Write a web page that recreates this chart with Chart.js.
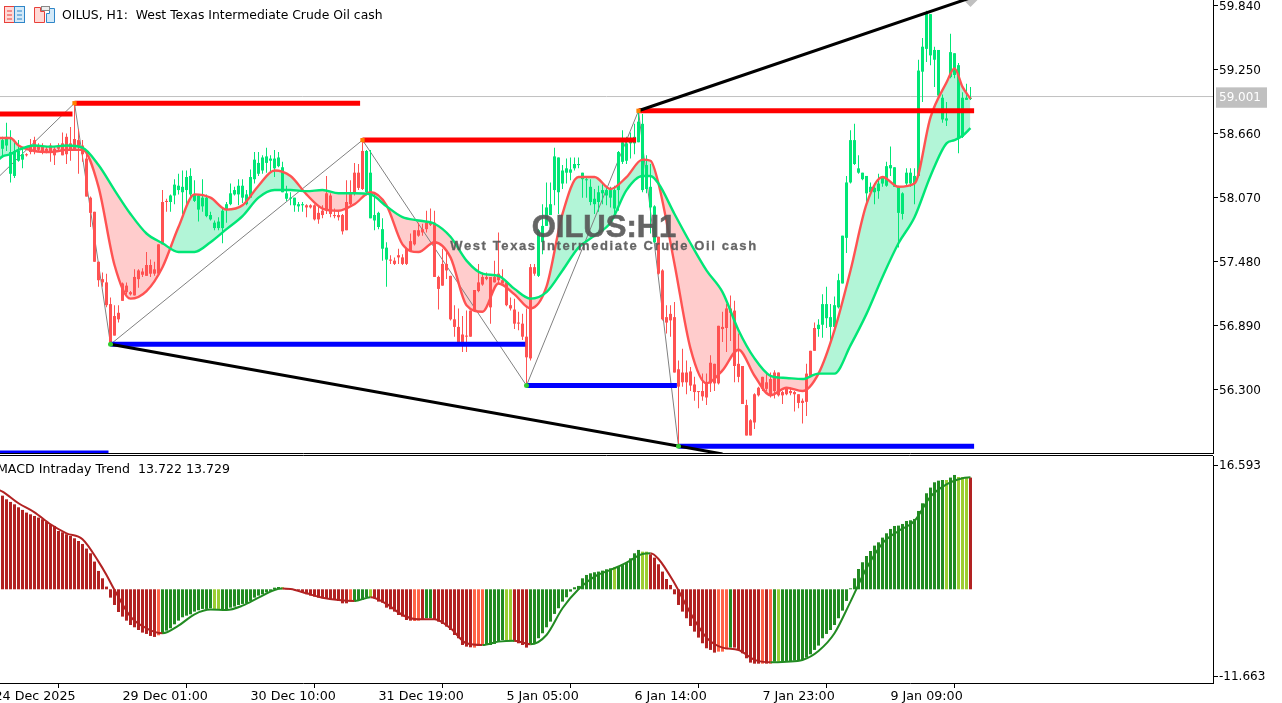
<!DOCTYPE html>
<html>
<head>
<meta charset="utf-8">
<title>OILUS H1</title>
<script src="https://cdn.jsdelivr.net/npm/chart.js@4"></script>
<style>
    html, body { margin: 0; padding: 0; background: #fff; overflow: hidden; }
    #page { position: relative; width: 1282px; height: 703px; overflow: hidden; }
    canvas { position: absolute; left: 0; }
    #priceChart { top: 0; }
    #macdChart { top: 455px; }
    .label { position: absolute; white-space: pre; font-family: "DejaVu Sans", sans-serif; color: #000; }
    #header { left: 62px; top: 7px; font-size: 12.4px; line-height: 15px; }
    #macdTitle { left: -3px; top: 461px; font-size: 12.6px; line-height: 15px; }
    #wmTitle { left: 404px; width: 400px; top: 210px; text-align: center; font: bold 31px/34px "Liberation Sans", sans-serif; color: #555; opacity: .9; -webkit-text-stroke: .6px #555; }
    #wmName { left: 404px; width: 400px; top: 238px; text-align: center; font: bold 13px/16px "Liberation Sans", sans-serif; letter-spacing: 1.6px; color: #555; opacity: .9; -webkit-text-stroke: .3px #555; }
    svg { position: absolute; top: 5px; }
</style>
</head>
<body>
<div id="page">
    <canvas id="priceChart" width="1282" height="455"></canvas>
    <canvas id="macdChart" width="1282" height="248"></canvas>
    <svg style="left:4px" width="21" height="19" viewBox="0 0 21 19">
        <rect x="0.5" y="1.5" width="10" height="16" fill="#ffd9d6" stroke="#e8403a"/>
        <rect x="10.5" y="1.5" width="10" height="16" fill="#d3e9f8" stroke="#2f86c8"/>
        <path d="M3 6h5M3 10h5M3 14h5" stroke="#e8403a"/>
        <path d="M13 6h5M13 10h5M13 14h5" stroke="#2f86c8"/>
    </svg>
    <svg style="left:33px" width="24" height="19" viewBox="0 0 24 19">
        <path d="M1.5 2.5h6v4h4v11h-10z" fill="#ffd9d6" stroke="#e8403a"/>
        <path d="M13.5 17.5v-9h3v-5h5v14z" fill="#d3e9f8" stroke="#2f86c8"/>
        <rect x="8.5" y="1.5" width="8" height="4" fill="#eee" stroke="#888"/>
    </svg>
    <div class="label" id="header">OILUS, H1:  West Texas Intermediate Crude Oil cash</div>
    <div class="label" id="macdTitle">MACD Intraday Trend  13.722 13.729</div>
    <div class="label" id="wmTitle">OILUS:H1</div>
    <div class="label" id="wmName">West Texas Intermediate Crude Oil cash</div>
</div>
<script>
// Candles, one entry per H1 bar
const highs = [
    58.63,58.76,58.69,58.60,58.60,58.52,58.48,58.61,58.63,58.57,
    58.57,58.54,58.57,58.54,58.57,58.67,58.66,58.72,58.92,58.70,
    58.60,58.47,58.08,57.94,57.48,57.38,57.37,57.15,57.08,57.08,
    57.29,57.29,57.21,57.41,57.41,57.42,57.57,57.50,57.48,57.64,
    58.14,58.06,58.10,58.24,58.29,58.32,58.32,58.34,58.23,58.10,
    58.24,58.10,57.94,57.86,57.89,57.97,58.03,58.20,58.17,58.24,
    58.24,58.14,58.33,58.49,58.49,58.46,58.53,58.46,58.51,58.49,
    58.40,58.18,58.12,58.07,58.03,58.03,58.01,58.01,58.01,58.00,
    58.00,58.27,58.11,57.97,57.95,57.92,58.23,58.23,58.39,58.38,
    58.58,58.51,58.51,58.11,57.94,57.88,57.66,57.54,57.52,57.60,
    57.55,57.61,57.74,57.77,57.84,57.83,57.95,57.97,57.95,57.35,
    57.60,57.58,57.35,57.08,57.05,56.98,57.03,57.03,57.22,57.46,
    57.38,57.38,57.34,57.49,57.75,57.41,57.29,57.15,57.14,57.02,
    57.00,57.05,57.46,57.46,57.78,58.01,58.21,58.21,58.53,58.44,
    58.37,58.43,58.44,58.44,58.44,58.30,58.27,58.24,58.15,58.18,
    58.20,58.18,58.17,58.18,58.50,58.69,58.63,58.67,58.75,58.87,
    58.84,58.46,58.38,58.00,57.71,57.41,57.08,57.08,57.11,56.57,
    56.68,56.57,56.51,56.42,56.29,56.45,56.45,56.62,56.54,56.89,
    57.02,57.09,57.17,57.12,56.82,56.52,56.21,56.03,56.27,56.33,
    56.42,56.45,56.46,56.48,56.46,56.29,56.31,56.32,56.29,56.26,
    56.22,56.54,56.66,56.92,56.95,57.18,57.25,57.09,57.16,57.37,
    57.72,58.27,58.69,58.75,58.46,58.30,58.27,58.21,58.20,58.29,
    58.27,58.40,58.54,58.35,58.18,58.12,58.34,58.34,58.34,59.34,
    59.54,59.79,59.76,59.46,59.43,59.02,58.95,59.58,59.40,59.31,
    59.04,59.12,59.09
];
const bodyTops = [
    58.60,58.63,58.49,58.50,58.50,58.47,58.47,58.55,58.60,58.54,
    58.54,58.52,58.55,58.52,58.55,58.57,58.63,58.57,58.61,58.60,
    58.55,58.43,58.07,57.94,57.48,57.32,57.29,57.09,56.98,57.01,
    57.28,57.26,57.20,57.34,57.40,57.39,57.45,57.45,57.41,57.64,
    58.03,58.04,58.09,58.19,58.18,58.17,58.26,58.27,58.10,58.09,
    58.07,58.07,57.91,57.84,57.85,57.95,58.01,58.11,58.14,58.18,
    58.18,58.10,58.26,58.42,58.39,58.44,58.45,58.43,58.43,58.44,
    58.35,58.11,58.07,58.07,58.01,58.01,58.00,58.00,58.00,57.93,
    57.95,58.11,58.09,57.91,57.91,57.91,58.03,58.11,58.30,58.30,
    58.50,58.50,58.30,57.91,57.93,57.78,57.61,57.50,57.49,57.54,
    57.52,57.60,57.67,57.77,57.77,57.78,57.84,57.84,57.84,57.34,
    57.46,57.46,57.35,56.95,56.88,56.81,56.80,57.03,57.22,57.29,
    57.34,57.34,57.34,57.34,57.37,57.31,57.29,57.08,57.04,56.92,
    56.91,56.79,57.43,57.43,57.77,57.81,57.98,58.01,58.45,58.44,
    58.32,58.34,58.33,58.38,58.38,58.30,58.24,58.17,58.06,58.12,
    58.14,58.14,58.14,58.14,58.49,58.58,58.57,58.61,58.63,58.77,
    58.75,58.37,58.17,57.99,57.71,57.40,56.97,57.00,56.97,56.49,
    56.46,56.46,56.47,56.35,56.28,56.29,56.36,56.55,56.54,56.89,
    56.88,57.05,57.05,57.03,56.54,56.52,56.16,56.02,56.26,56.32,
    56.42,56.37,56.40,56.46,56.46,56.28,56.31,56.29,56.28,56.26,
    56.20,56.45,56.66,56.87,56.90,57.09,57.09,56.97,57.08,57.31,
    57.72,58.21,58.60,58.60,58.34,58.30,58.27,58.17,58.16,58.20,
    58.26,58.36,58.37,58.35,58.17,58.11,58.30,58.30,58.27,59.24,
    59.46,59.77,59.76,59.43,59.43,58.99,58.80,59.41,59.40,59.29,
    58.99,58.99,58.99
];
const bodyBottoms = [
    58.52,58.55,58.29,58.27,58.41,58.42,58.46,58.49,58.50,58.51,
    58.49,58.50,58.49,58.46,58.52,58.46,58.47,58.50,58.51,58.54,
    58.47,58.08,57.93,57.48,57.31,57.29,57.08,56.72,56.80,56.95,
    57.12,57.20,57.18,57.17,57.32,57.36,57.35,57.37,57.37,57.37,
    57.64,58.03,58.03,58.09,58.14,58.12,58.14,58.10,58.04,57.96,
    57.99,57.90,57.87,57.79,57.79,57.79,57.96,58.01,58.10,58.10,
    58.07,58.01,58.07,58.24,58.29,58.32,58.39,58.41,58.34,58.36,
    58.12,58.06,58.06,58.00,57.99,58.00,57.98,57.98,57.87,57.87,
    57.91,57.95,57.92,57.90,57.89,57.76,57.77,58.01,58.11,58.16,
    58.15,58.12,57.88,57.86,57.80,57.60,57.50,57.49,57.46,57.52,
    57.46,57.46,57.58,57.64,57.72,57.75,57.78,57.82,57.34,57.23,
    57.26,57.40,56.95,56.88,56.72,56.74,56.79,56.79,57.03,57.21,
    57.27,57.32,57.06,57.29,57.31,57.28,57.08,57.05,56.91,56.91,
    56.79,56.60,56.59,57.37,57.35,57.66,57.81,57.91,58.14,58.12,
    58.20,58.30,58.30,58.34,58.37,58.24,58.23,58.03,58.01,58.03,
    58.11,58.09,58.07,57.97,58.14,58.40,58.41,58.57,58.57,58.58,
    58.14,58.15,57.98,57.66,57.37,56.95,56.92,56.94,56.46,56.33,
    56.37,56.37,56.34,56.28,56.28,56.24,56.23,56.36,56.36,56.36,
    56.86,56.87,57.01,56.52,56.42,56.17,55.88,55.88,56.00,56.25,
    56.31,56.31,56.25,56.29,56.25,56.25,56.26,56.27,56.26,56.18,
    56.18,56.19,56.42,56.66,56.86,56.90,56.96,56.88,56.88,57.06,
    57.28,57.70,58.21,58.38,58.30,58.24,58.11,58.12,58.12,58.13,
    58.20,58.18,58.34,58.17,57.93,57.92,58.20,58.20,58.20,58.27,
    59.23,59.44,59.38,59.34,59.01,58.79,58.78,59.18,59.20,58.62,
    58.63,58.97,58.98
];
const lows = [
    58.44,58.50,58.21,58.25,58.40,58.34,58.45,58.47,58.47,58.49,
    58.47,58.48,58.40,58.37,58.49,58.46,58.38,58.41,58.50,58.29,
    58.40,58.08,57.80,57.48,57.25,57.25,57.06,56.71,56.80,56.92,
    57.12,57.18,57.17,57.17,57.24,57.34,57.35,57.34,57.35,57.37,
    57.64,57.94,57.94,58.01,58.10,57.92,57.98,58.07,58.03,57.85,
    57.94,57.89,57.86,57.77,57.77,57.65,57.84,58.00,58.09,58.00,
    58.02,58.00,58.07,58.20,58.27,58.29,58.30,58.30,58.26,58.35,
    58.12,58.04,58.00,57.94,57.94,57.94,57.89,57.97,57.86,57.83,
    57.88,57.92,57.89,57.88,57.86,57.73,57.77,58.00,58.09,58.14,
    58.14,58.09,57.88,57.77,57.78,57.49,57.25,57.46,57.45,57.46,
    57.45,57.45,57.57,57.63,57.71,57.72,57.75,57.81,57.34,57.04,
    57.26,57.32,56.94,56.79,56.71,56.65,56.65,56.79,57.02,57.20,
    57.26,57.31,56.91,57.29,57.28,57.28,57.07,57.03,56.86,56.85,
    56.76,56.36,56.57,57.35,57.34,57.55,57.81,57.91,58.00,57.92,
    58.15,58.20,58.23,58.32,58.34,58.07,58.07,58.00,57.92,57.94,
    58.01,58.00,57.98,57.89,57.95,58.38,58.38,58.43,58.47,58.58,
    58.12,58.11,57.74,57.65,57.36,56.94,56.82,56.79,56.46,55.78,
    56.33,56.26,56.29,56.20,56.13,56.20,56.16,56.28,56.29,56.35,
    56.74,56.65,56.75,56.37,56.37,56.17,55.88,55.88,55.94,56.24,
    56.29,56.29,56.23,56.22,56.24,56.17,56.25,56.25,56.10,56.13,
    55.99,56.06,56.42,56.66,56.79,56.78,56.87,56.75,56.85,57.05,
    57.28,57.56,58.20,58.37,58.29,58.23,58.01,58.11,58.01,58.06,
    58.17,58.17,58.27,58.17,57.61,57.87,58.17,58.17,58.01,58.27,
    58.95,59.32,59.29,59.09,58.99,58.76,58.73,59.17,59.17,58.48,
    58.62,58.97,58.97
];
// First bar of each candle colour run
const candleRuns = [[0, 'up'], [6, 'down'], [42, 'up'], [76, 'down'], [91, 'up'], [97, 'down'], [134, 'up'], [164, 'down'], [204, 'up']];

// Fast and slow trend lines, read at these bars
const bandBars = [-1,0,2,4,8,12,16,20,24,28,32,36,40,44,48,52,56,60,64,68,72,76,80,84,88,92,96,100,104,108,112,116,120,124,128,132,136,140,144,148,152,156,160,162,164,168,172,176,180,184,188,192,196,200,204,208,212,216,220,224,228,232,236,238,240,242];
const fastLine = [58.62,58.62,58.62,58.55,58.50,58.49,58.51,58.51,58.17,57.45,57.14,57.21,57.43,57.80,58.10,58.07,57.96,58.00,58.18,58.32,58.27,58.10,57.97,57.95,58.01,58.12,58.00,57.64,57.57,57.66,57.52,57.08,57.02,57.28,57.18,57.05,57.25,57.92,58.26,58.26,58.15,58.26,58.42,58.41,58.20,57.46,56.68,56.36,56.48,56.67,56.43,56.25,56.32,56.29,56.45,56.85,57.40,58.01,58.26,58.17,58.20,58.81,59.13,59.26,59.09,58.98];
const slowLine = [58.42,58.45,58.47,58.51,58.55,58.54,58.55,58.53,58.37,58.14,57.92,57.74,57.65,57.57,57.57,57.66,57.78,57.90,58.07,58.14,58.14,58.13,58.14,58.11,58.11,58.10,57.99,57.89,57.86,57.83,57.71,57.49,57.37,57.35,57.23,57.14,57.20,57.40,57.61,57.72,57.84,58.14,58.27,58.27,58.20,57.92,57.65,57.40,57.20,56.85,56.59,56.43,56.41,56.40,56.45,56.45,56.71,57.00,57.34,57.65,57.89,58.27,58.57,58.60,58.64,58.71];

// Support and resistance levels: first bar, last bar, price
const resistanceLevels = [[-1, 17.5, 58.84], [18, 89.4, 58.94], [90, 158.4, 58.60], [159, 242.9, 58.87]];
const supportLevels = [[-1, 26.5, 55.72], [27, 130.7, 56.72], [131, 168.6, 56.34], [169, 242.9, 55.78]];
// Channel lines and zigzag: bar, price
const channelLow = [[27, 56.72], [180, 55.71]];
const channelHigh = [[159, 58.87], [242, 59.91]];
const zigzag = [[-1, 58.26], [18, 58.94], [27, 56.72], [90, 58.60], [131, 56.34], [159, 58.87], [169, 55.78]];
const swingHighs = [[18, 58.94], [90, 58.60], [159, 58.87]];
const swingLows = [[27, 56.72], [131, 56.34], [169, 55.78]];
const channelEnd = [[242, 59.89]];

// Price axis
const priceTicks = [59.84, 59.25, 58.66, 58.07, 57.48, 56.89, 56.30];
const lastPrice = 59.001;

// Time axis
const timeTickBars = [-2, 30, 62, 94, 126, 158, 190, 222];
const timeTickLabels = ['24 Dec 2025', '29 Dec 01:00', '30 Dec 10:00', '31 Dec 19:00', '5 Jan 05:00', '6 Jan 14:00', '7 Jan 23:00', '9 Jan 09:00'];

// MACD pane
const macdTicks = [16.593, -11.663];
const macdHist = [
    12.54,12.05,11.70,11.38,10.98,10.63,10.27,10.04,9.82,9.60,
    9.38,9.06,8.71,8.48,7.81,7.63,7.37,7.14,6.83,6.47,
    6.07,5.45,4.82,3.71,2.46,1.47,0.36,-1.12,-2.10,-3.04,
    -3.66,-4.20,-4.78,-5.09,-5.45,-5.80,-5.98,-6.25,-6.38,-6.16,
    -5.98,-5.54,-5.22,-4.69,-4.20,-3.75,-3.53,-3.35,-2.99,-2.81,
    -2.63,-2.63,-2.54,-2.63,-2.63,-2.72,-2.72,-2.46,-2.32,-2.10,
    -1.96,-1.88,-1.56,-1.12,-0.85,-0.67,-0.40,-0.22,0.22,0.31,
    0.27,0.05,-0.03,-0.09,-0.13,-0.40,-0.67,-0.85,-0.98,-1.12,
    -1.20,-1.20,-1.34,-1.43,-1.56,-1.88,-1.88,-1.65,-1.65,-1.52,
    -1.43,-1.07,-1.07,-1.21,-1.65,-1.79,-2.46,-2.68,-2.99,-3.44,
    -3.66,-4.11,-4.20,-4.24,-4.20,-4.11,-3.88,-3.88,-4.02,-4.33,
    -4.64,-5.00,-5.45,-6.12,-6.56,-7.46,-7.68,-7.77,-7.81,-7.59,
    -7.46,-7.46,-7.46,-7.32,-7.01,-6.79,-6.79,-6.79,-7.01,-7.23,
    -7.46,-7.81,-7.37,-7.23,-6.56,-5.89,-5.09,-4.33,-3.30,-2.54,
    -1.65,-1.07,-0.31,0.27,0.45,1.47,1.92,2.14,2.28,2.37,
    2.50,2.68,2.81,2.95,3.04,3.39,3.57,4.15,4.82,5.27,
    5.04,5.04,4.69,4.24,3.35,2.37,1.38,0.58,-0.67,-2.10,
    -2.99,-3.88,-4.91,-5.67,-6.47,-7.23,-7.90,-8.12,-8.48,-8.35,
    -8.35,-8.04,-7.81,-7.81,-8.12,-8.57,-9.24,-9.82,-9.96,-9.96,
    -9.96,-9.96,-9.96,-9.69,-9.69,-9.60,-9.60,-9.60,-9.55,-9.55,
    -9.46,-9.15,-8.71,-8.12,-7.54,-6.56,-5.98,-5.45,-4.78,-3.88,
    -2.86,-1.56,0.13,1.47,2.72,3.62,4.46,5.13,5.85,6.29,
    6.92,7.50,8.08,8.48,8.53,8.75,9.15,9.24,9.42,10.49,
    11.52,12.86,13.62,14.33,14.55,14.64,14.64,14.96,15.31,15.04,
    15.04,15.04,14.96
];
// First bar of each histogram colour run
const macdRuns = [[0,'r'],[39,'t'],[40,'g'],[53,'y'],[55,'g'],[70,'y'],[71,'r'],[87,'t'],[88,'g'],[92,'y'],[93,'r'],[103,'t'],[105,'r'],[106,'g'],[108,'r'],[118,'t'],[121,'g'],[126,'y'],[128,'r'],[132,'g'],[153,'y'],[154,'g'],[160,'y'],[162,'r'],[179,'t'],[182,'g'],[183,'r'],[190,'t'],[191,'r'],[192,'t'],[193,'g'],[194,'y'],[195,'g'],[236,'y'],[237,'g'],[239,'y'],[242,'r']];
const macdLineBars = [-1,0,4,8,12,16,20,24,26,28,32,36,40,44,48,52,56,60,64,68,70,72,76,80,84,88,92,96,100,104,108,112,116,120,124,128,132,136,140,144,148,152,156,160,162,164,168,172,176,180,184,188,192,196,200,204,208,212,216,220,224,228,232,236,240,242];
const macdLineValues = [13.3,13.08,11.52,10.31,8.71,7.50,6.70,3.71,1.92,-0.09,-3.66,-5.22,-5.89,-4.87,-3.35,-2.72,-2.77,-2.19,-1.12,-0.09,0.09,0.04,-0.54,-1.12,-1.43,-1.56,-1.07,-1.96,-3.44,-4.02,-4.02,-5.22,-7.23,-7.46,-7.01,-6.88,-7.37,-6.12,-2.54,0,1.70,2.59,3.57,4.73,4.82,4.06,0.80,-3.21,-6.47,-7.81,-8.12,-9.46,-9.78,-9.69,-9.46,-8.26,-5.89,-1.65,2.81,6.16,7.81,9.15,12.41,14.06,14.87,15.0];

const GREEN = '#00E676';
const RED = '#FF5252';
const FILL_GREEN = '#B2F5D7';
const FILL_RED = '#FFCCCC';
const MACD_COLORS = { r: '#B22222', t: '#FF6347', g: '#228B22', y: '#9ACD32' };
const FONT = { family: '"DejaVu Sans", sans-serif', size: 12 };

// Chart.js keeps room for thick lines and big points around the plot, the panes here run edge to edge
const baseUpdateLayout = Chart.prototype._updateLayout;
Chart.prototype._updateLayout = function () {
    baseUpdateLayout.call(this, 0);
};

// Look up which run a bar belongs to
function runValue(runs, bar) {
    let value = runs[0][1];
    runs.forEach(run => {
        if (bar >= run[0]) value = run[1];
    });
    return value;
}

function pairs(list) {
    return list.map(p => ({ x: p[0], y: p[1] }));
}

const candleColors = highs.map((h, i) => runValue(candleRuns, i) === 'up' ? GREEN : RED);

// Drop the room Chart.js keeps for overhanging tick labels
function noOverhang(scale) {
    scale.paddingLeft = 0;
    scale.paddingRight = 0;
    scale.paddingTop = 0;
    scale.paddingBottom = 0;
}

function xScale(extra) {
    return Object.assign({
        type: 'linear',
        min: -0.625,
        max: 302.625,
        offset: false,
        border: { color: '#000' },
        grid: { display: true, drawOnChartArea: false, drawTicks: false }
    }, extra);
}

function lineSet(data, color, width, order) {
    return {
        type: 'line',
        data: data,
        borderColor: color,
        borderWidth: width,
        pointRadius: 0,
        fill: false,
        clip: 0,
        order: order
    };
}

const priceDatasets = [];

// index 0 is the slow line, the fill below points at it
const slowPoints = bandBars.map((b, i) => ({ x: b, y: slowLine[i] }));
const fastPoints = bandBars.map((b, i) => ({ x: b, y: fastLine[i] }));
priceDatasets.push(Object.assign(lineSet(slowPoints, GREEN, 2.4, 3), { cubicInterpolationMode: 'monotone' }));
priceDatasets.push(Object.assign(lineSet(fastPoints, RED, 2.4, 4), { cubicInterpolationMode: 'monotone' }));
priceDatasets.push(Object.assign(lineSet(fastPoints, 'transparent', 0, 9), {
    cubicInterpolationMode: 'monotone',
    fill: { target: 0, above: FILL_GREEN, below: FILL_RED }
}));

priceDatasets.push(lineSet([{ x: -1, y: lastPrice }, { x: 303, y: lastPrice }], '#C0C0C0', 1, 10));

// Wicks and bodies
priceDatasets.push({
    type: 'bar',
    data: highs.map((h, i) => ({ x: i, y: [lows[i], h] })),
    backgroundColor: candleColors,
    barThickness: 1,
    grouped: false,
    inflateAmount: 0,
    minBarLength: 1,
    order: 7
});
priceDatasets.push({
    type: 'bar',
    data: bodyTops.map((t, i) => ({ x: i, y: [bodyBottoms[i], t] })),
    backgroundColor: candleColors,
    barThickness: 3,
    grouped: false,
    inflateAmount: 0,
    minBarLength: 1,
    order: 6
});

priceDatasets.push(lineSet(pairs(zigzag), '#808080', 1, 8));
resistanceLevels.forEach(l => {
    priceDatasets.push(lineSet([{ x: l[0], y: l[2] }, { x: l[1], y: l[2] }], '#FF0000', 5, 2));
});
supportLevels.forEach(l => {
    priceDatasets.push(lineSet([{ x: l[0], y: l[2] }, { x: l[1], y: l[2] }], '#0000FF', 5, 2));
});
priceDatasets.push(lineSet(pairs(channelLow), '#000000', 3, 1));
priceDatasets.push(lineSet(pairs(channelHigh), '#000000', 3, 1));

function markerSet(data, color, style, radius, order) {
    return {
        type: 'line',
        data: pairs(data),
        showLine: false,
        pointStyle: style,
        pointRadius: radius,
        pointBackgroundColor: color,
        pointBorderWidth: 0,
        clip: 0,
        order: order
    };
}
priceDatasets.push(markerSet(swingHighs, '#FF8000', 'rect', 3, 0));
priceDatasets.push(markerSet(swingLows, '#32CD32', 'circle', 2.5, 0));
priceDatasets.push(markerSet(channelEnd, '#C0C0C0', 'rectRot', 7, 2));

new Chart(document.getElementById('priceChart').getContext('2d'), {
    type: 'line',
    data: { datasets: priceDatasets },
    options: {
        responsive: false,
        animation: false,
        layout: { padding: { bottom: 2 } },
        plugins: { legend: { display: false }, tooltip: { enabled: false } },
        scales: {
            x: xScale({
                ticks: { display: false },
                afterFit: s => { s.height = 0; noOverhang(s); }
            }),
            y: {
                position: 'right',
                min: 55.719,
                max: 59.89,
                border: { color: '#000' },
                grid: {
                    drawOnChartArea: false,
                    tickLength: 5,
                    tickColor: c => (c.tick && c.tick.value === lastPrice) ? 'transparent' : '#000'
                },
                afterBuildTicks: s => { s.ticks = priceTicks.concat(lastPrice).map(v => ({ value: v })); },
                afterFit: s => { s.width = 69; noOverhang(s); },
                ticks: {
                    font: FONT,
                    padding: 1,
                    labelOffset: 1,
                    autoSkip: false,
                    callback: v => v.toFixed(3),
                    color: c => c.tick.value === lastPrice ? '#FFFFFF' : '#000000',
                    showLabelBackdrop: c => c.tick.value === lastPrice,
                    backdropColor: '#C0C0C0',
                    backdropPadding: { left: 3, right: 6, top: 3, bottom: 3 }
                }
            }
        }
    }
});

// MACD pane
const macdPoints = macdLineBars.map((b, i) => ({ x: b, y: macdLineValues[i] }));

// thin top edge of the lower pane
const paneTopLine = {
    id: 'paneTopLine',
    afterDraw(chart) {
        const ctx = chart.ctx;
        ctx.save();
        ctx.strokeStyle = '#000';
        ctx.lineWidth = 1;
        ctx.beginPath();
        ctx.moveTo(0, 0.5);
        ctx.lineTo(chart.chartArea.right, 0.5);
        ctx.stroke();
        ctx.restore();
    }
};

new Chart(document.getElementById('macdChart').getContext('2d'), {
    type: 'line',
    data: {
        datasets: [
            {
                type: 'line',
                data: macdPoints,
                borderColor: '#228B22',
                borderWidth: 2,
                pointRadius: 0,
                cubicInterpolationMode: 'monotone',
                clip: 0,
                order: 0,
                segment: {
                    borderColor: c => {
                        const code = runValue(macdRuns, c.p0.parsed.x + 1);
                        return (code === 'r' || code === 't') ? MACD_COLORS.r : MACD_COLORS.g;
                    }
                }
            },
            {
                type: 'bar',
                data: macdHist.map((v, i) => ({ x: i, y: v })),
                backgroundColor: macdHist.map((v, i) => MACD_COLORS[runValue(macdRuns, i)]),
                barThickness: 3,
                grouped: false,
                inflateAmount: 0,
                base: 0,
                order: 1
            }
        ]
    },
    options: {
        responsive: false,
        animation: false,
        layout: { padding: { top: 1 } },
        plugins: { legend: { display: false }, tooltip: { enabled: false } },
        scales: {
            x: xScale({
                grid: { display: true, drawOnChartArea: false, drawTicks: true, tickLength: 5, tickColor: '#000' },
                afterBuildTicks: s => { s.ticks = timeTickBars.map(v => ({ value: v })); },
                afterFit: s => { s.height = 20; noOverhang(s); },
                ticks: {
                    font: { family: FONT.family, size: 12.7 },
                    color: '#000',
                    padding: 1,
                    align: 'start',
                    autoSkip: false,
                    maxRotation: 0,
                    callback: v => timeTickLabels[timeTickBars.indexOf(v)]
                }
            }),
            y: {
                position: 'right',
                min: -12.55,
                max: 17.85,
                border: { color: '#000' },
                grid: { drawOnChartArea: false, tickLength: 5, tickColor: '#000' },
                afterBuildTicks: s => { s.ticks = macdTicks.map(v => ({ value: v })); },
                afterFit: s => { s.width = 69; noOverhang(s); },
                ticks: {
                    font: FONT,
                    color: '#000',
                    padding: 1,
                    autoSkip: false,
                    callback: v => v.toFixed(3)
                }
            }
        }
    },
    plugins: [paneTopLine]
});
</script>
</body>
</html>
